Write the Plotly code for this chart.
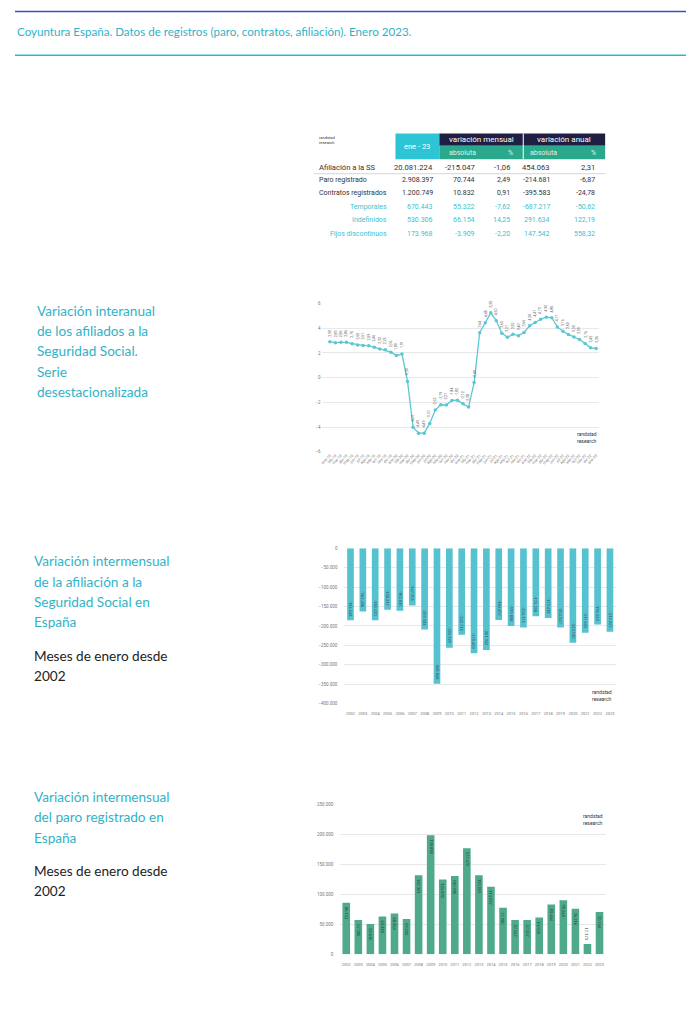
import plotly.graph_objects as go

W, H = 700, 1013

# ---------------- DATA ----------------
title_text = "Coyuntura España. Datos de registros (paro, contratos, afiliación). Enero 2023."

table_rows = ["Afiliación a la SS", "Paro registrado", "Contratos registrados",
              "Temporales", "Indefinidos", "Fijos discontinuos"]
ene23 = [20081224, 2908397, 1200749, 670443, 530306, 173968]
mens_abs = [-215047, 70744, 10832, 55322, 66154, -3909]
mens_pct = [-1.06, 2.49, 0.91, -7.62, 14.25, -2.20]
anual_abs = [454063, -214681, -395583, -687217, 291634, 147542]
anual_pct = [2.31, -6.87, -24.78, -50.62, 122.19, 558.32]

meses = ["ene", "feb", "mar", "abr", "may", "jun", "jul", "ago", "sep", "oct", "nov", "dic"]
month_labels = [f"{m}-{y}" for y in ["19", "20", "21", "22"] for m in meses] + ["ene-23"]
afil_yoy = [2.90, 2.83, 2.86, 2.86, 2.75, 2.65, 2.61, 2.59, 2.46, 2.32, 2.25, 2.06,
            1.80, 1.91, -0.30, -4.01, -4.49, -4.49, -3.70, -2.62, -2.19, -2.21, -1.84, -1.82,
            -2.12, -2.38, -0.40, 3.64, 4.45, 5.25, 4.60, 3.60, 3.27, 3.52, 3.40, 3.66,
            4.20, 4.47, 4.73, 4.90, 4.85, 4.11, 3.76, 3.50, 3.30, 3.09, 2.76, 2.42,
            2.36]

years = [str(y) for y in range(2002, 2024)]
afil_enero = [-185548, -162496, -185520, -158217, -160835, -147205, -209183, -348848,
              -255921, -222715, -270400, -261942, -184457, -199838, -204175, -175258,
              -179418, -204047, -243130, -217625, -196543, -215047]
paro_enero = [86152, 57286, 50616, 63338, 68354, 59032, 132301, 198838,
              124892, 130930, 177470, 132055, 113097, 77980, 57247, 57257,
              61500, 83464, 90248, 76216, 17173, 70744]

# ---------------- STYLE ----------------
NAVY = "#1e1f42"
CYAN_HDR = "#2dc5d6"
GREEN_HDR = "#2aa88b"
TITLE_CYAN = "#2fb3c8"
LINE_COL = "#5cc7d2"
BAR1_COL = "#56c2cf"
BAR2_COL = "#4fa98b"
GRID = "#e8e8e8"
TXT = "#333333"
OFF = 8  # page body margin of the browser


def px(x):
    return (x - OFF) / W


def py(y):
    return 1 - (y - OFF) / H


def fmt_int(v):
    s = f"{abs(v):,}".replace(",", ".")
    return ("-" if v < 0 else "") + s


def fmt_dec(v):
    return f"{v:.2f}".replace(".", ",")


fig = go.Figure()
annotations = []

# ---------------- LINE CHART ----------------
fig.add_trace(go.Scatter(
    x=month_labels, y=afil_yoy, mode="lines+markers",
    line=dict(color=LINE_COL, width=1.3),
    marker=dict(color=LINE_COL, size=3.5),
    xaxis="x", yaxis="y", hoverinfo="skip", showlegend=False))

for i, v in enumerate(afil_yoy):
    annotations.append(dict(x=i, y=v, xref="x", yref="y", text=fmt_dec(v),
                            textangle=-90, showarrow=False, yshift=9,
                            font=dict(size=3.6, color="#555", family="Roboto")))

# ---------------- BAR CHART 1 ----------------
fig.add_trace(go.Bar(
    x=years, y=afil_enero, width=0.54, marker=dict(color=BAR1_COL, line=dict(width=0)),
    xaxis="x2", yaxis="y2", hoverinfo="skip", showlegend=False))
for i, v in enumerate(afil_enero):
    annotations.append(dict(x=i, y=v, xref="x2", yref="y2", text=fmt_int(v),
                            textangle=90, showarrow=False, yanchor="bottom", yshift=2,
                            font=dict(size=4, color="#2b4a55", family="Roboto")))

# ---------------- BAR CHART 2 ----------------
fig.add_trace(go.Bar(
    x=years, y=paro_enero, width=0.63, marker=dict(color=BAR2_COL, line=dict(width=0)),
    xaxis="x3", yaxis="y3", hoverinfo="skip", showlegend=False))
for i, v in enumerate(paro_enero):
    inside = v >= 30000
    annotations.append(dict(x=i, y=v, xref="x3", yref="y3", text=fmt_int(v),
                            textangle=90, showarrow=False,
                            yanchor="top" if inside else "bottom",
                            yshift=-2 if inside else 2,
                            font=dict(size=4, color="#1f3d33", family="Roboto")))

tickfont = dict(size=4.5, color="#777", family="Roboto")

layout = dict(
    width=W, height=H, margin=dict(l=0, r=0, t=0, b=0),
    paper_bgcolor="white", plot_bgcolor="white",
    separators=",.",
    xaxis=dict(domain=[px(321), px(598.8)], range=[-1.5, 48.5], type="category", anchor="y",
               showgrid=False, tickangle=-45, tickfont=dict(size=3.8, color="#777", family="Roboto"),
               showline=False, zeroline=False, ticks=""),
    yaxis=dict(domain=[py(452), py(303)], range=[-6, 6], tickvals=[-6, -4, -2, 0, 2, 4, 6],
               anchor="x", showgrid=True, gridcolor=GRID, gridwidth=0.8, zeroline=False,
               tickfont=tickfont, ticks=""),
    xaxis2=dict(domain=[px(343.8), px(616)], range=[-0.5, 21.5], type="category", anchor="y2",
                showgrid=False, tickfont=dict(size=4, color="#777", family="Roboto"),
                ticks="outside", ticklen=6, tickcolor="rgba(0,0,0,0)", zeroline=False),
    yaxis2=dict(domain=[py(705), py(549)], range=[-400000, 0], dtick=50000, anchor="x2",
                tickformat=",d", showgrid=True, gridcolor=GRID, gridwidth=0.8,
                zeroline=False, tickfont=tickfont,
                ticks="outside", ticklen=5, tickcolor="rgba(0,0,0,0)"),
    xaxis3=dict(domain=[px(339.7), px(605.4)], range=[-0.5, 21.5], type="category", anchor="y3",
                showgrid=False, tickfont=dict(size=4, color="#777", family="Roboto"),
                ticks="outside", ticklen=6, tickcolor="rgba(0,0,0,0)", zeroline=False),
    yaxis3=dict(domain=[py(957), py(806.7)], range=[0, 250000], dtick=50000, anchor="x3",
                tickformat=",d", showgrid=True, gridcolor=GRID, gridwidth=0.8,
                zeroline=False, tickfont=tickfont,
                ticks="outside", ticklen=5, tickcolor="rgba(0,0,0,0)"),
)
fig.update_layout(**layout)

shapes = []
# header lines
shapes.append(dict(type="line", xref="paper", yref="paper", x0=px(14), x1=px(686),
                   y0=py(9.5), y1=py(9.5), line=dict(color="#2f55c0", width=1.5)))
shapes.append(dict(type="line", xref="paper", yref="paper", x0=px(14), x1=px(686),
                   y0=py(53.5), y1=py(53.5), line=dict(color="#2cb6cf", width=1.5)))


def txt(x, y, s, size, color, anchor="center", family="Roboto"):
    annotations.append(dict(x=px(x), y=py(y), xref="paper", yref="paper", text=s,
                            showarrow=False, xanchor=anchor, yanchor="middle",
                            font=dict(size=size, color=color, family=family)))


txt(14, 30, title_text, 11.6, TITLE_CYAN, anchor="left", family="Lato")

# ---------------- TABLE ----------------
def rect(x0, x1, y0, y1, color):
    shapes.append(dict(type="rect", xref="paper", yref="paper", x0=px(x0), x1=px(x1),
                       y0=py(y1), y1=py(y0), fillcolor=color, line=dict(width=0), layer="below"))

rect(395, 439, 132, 158, CYAN_HDR)
rect(439, 605, 132, 144.5, NAVY)
rect(439, 605, 144.5, 158, GREEN_HDR)
shapes.append(dict(type="line", xref="paper", yref="paper", x0=px(523), x1=px(523),
                   y0=py(158), y1=py(132), line=dict(color="white", width=1)))
shapes.append(dict(type="line", xref="paper", yref="paper", x0=px(313), x1=px(605),
                   y0=py(172.5), y1=py(172.5), line=dict(color="#bbbbbb", width=0.6)))

annotations.append(dict(x=px(316), y=py(132), xref="paper", yref="paper",
                        text="randstad<br>research", showarrow=False, xanchor="left",
                        yanchor="top", align="left",
                        font=dict(size=4, color="#333", family="Roboto")))
txt(417, 145, "ene - 23", 7.5, "white")
txt(481, 138.5, "variación mensual", 8, "white")
txt(564, 138.5, "variación anual", 8, "white")
for xc, s in [(462, "absoluta"), (510, "%"), (543, "absoluta"), (593, "%")]:
    txt(xc, 151.5, s, 7, "#dff3ec")

row_y = [166, 179, 192, 205.7, 219, 233]
col_right = [435, 476.7, 511.7, 551.7, 596.7]
for i, name in enumerate(table_rows):
    sub = i >= 3
    color = "#3cbfd0" if sub else TXT
    size = 7.6 if i == 0 else 7
    if sub:
        txt(389, row_y[i], name, size, color, anchor="right")
    else:
        txt(316, row_y[i], name, size, color, anchor="left")
    vals = [fmt_int(ene23[i]), fmt_int(mens_abs[i]), fmt_dec(mens_pct[i]),
            fmt_int(anual_abs[i]), fmt_dec(anual_pct[i])]
    for xr, s in zip(col_right, vals):
        txt(xr, row_y[i], s, size, color, anchor="right")

# ---------------- LEFT TEXTS ----------------
def block(x, y0, lines, color, step=20.5, size=13.6):
    for k, s in enumerate(lines):
        txt(x, y0 + k * step, s, size, color, anchor="left", family="Lato")

block(34, 310, ["Variación interanual", "de los afiliados a la", "Seguridad Social.",
                "Serie", "desestacionalizada"], TITLE_CYAN)
block(31, 562, ["Variación intermensual", "de la afiliación a la",
                "Seguridad Social en", "España"], TITLE_CYAN)
block(31, 657, ["Meses de enero desde", "2002"], "#222")
block(31, 799, ["Variación intermensual", "del paro registrado en", "España"], TITLE_CYAN)
block(31, 873, ["Meses de enero desde", "2002"], "#222")

# randstad research logos inside charts
for (x, y) in [(575, 438), (590, 697), (581, 822)]:
    annotations.append(dict(x=px(x), y=py(y), xref="paper", yref="paper",
                            text="randstad<br>research", showarrow=False, xanchor="left",
                            yanchor="middle", align="left",
                            font=dict(size=5, color="#333", family="Roboto")))

fig.update_layout(shapes=shapes, annotations=annotations)
fig.write_html("out.html")
